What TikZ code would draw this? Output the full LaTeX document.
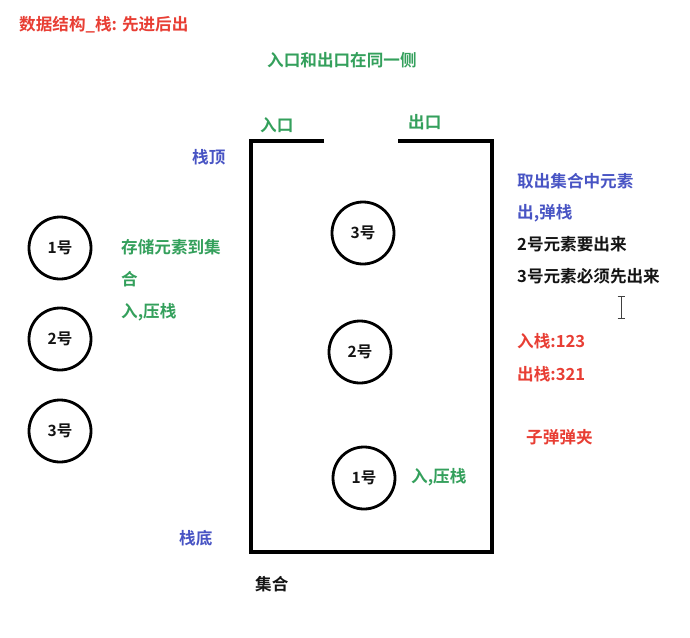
\documentclass[tikz,border=0pt]{standalone}
\usepackage{fontspec}
\setmainfont{Noto Sans CJK SC}[BoldFont={Noto Sans CJK SC Bold}]
\definecolor{tred}{RGB}{232,62,52}
\definecolor{tgreen}{RGB}{52,160,92}
\definecolor{tblue}{RGB}{72,84,196}
\definecolor{tblack}{RGB}{20,20,20}
\tikzset{
  txt/.style={anchor=west, inner sep=0pt, font=\fontsize{16.6}{18}\selectfont\bfseries},
  ball/.style={circle, draw=black, line width=2.8pt, minimum size=62pt, inner sep=0pt,
    font=\fontsize{15.5}{17}\selectfont\bfseries, text=tblack},
  wall/.style={line width=3.6pt, line cap=butt, line join=miter}
}
\begin{document}
\begin{tikzpicture}[x=1pt,y=-1pt]
\useasboundingbox (0,0) rectangle (690,637);
\fill[white] (0,0) rectangle (690,637);
% container
\coordinate (inR) at (324,141);
\coordinate (tl) at (251,141);
\coordinate (bl) at (251,552);
\coordinate (br) at (492,552);
\coordinate (tr) at (492,141);
\coordinate (outL) at (398,141);
\draw[wall] (inR) -- (tl) -- (bl) -- (br) -- (tr) -- (outL);
% balls outside
\node[ball] (o1) at (60,248) {1号};
\node[ball] (o2) at (60,339) {2号};
\node[ball] (o3) at (60,431) {3号};
% balls inside
\node[ball] (i3) at (363,233) {3号};
\node[ball] (i2) at (360,352) {2号};
\node[ball] (i1) at (364,478) {1号};
% texts
\node[txt, text=tred] (title) at (19,25) {数据结构\_栈: 先进后出};
\node[txt, text=tgreen] (same) at (267,60) {入口和出口在同一侧};
\node[txt, text=tgreen] (entry) at (260,125) {入口};
\node[txt, text=tgreen] (exit) at (408,122) {出口};
\node[txt, text=tblue] (top) at (192,157) {栈顶};
\node[txt, text=tgreen] (store1) at (121,247) {存储元素到集};
\node[txt, text=tgreen] (store2) at (121,279) {合};
\node[txt, text=tgreen] (push1) at (121,312) {入,压栈};
\node[txt, text=tblue] (take1) at (517,181) {取出集合中元素};
\node[txt, text=tblue] (take2) at (517,213) {出,弹栈};
\node[txt, text=tblack] (two) at (517,244) {2号元素要出来};
\node[txt, text=tblack] (three) at (517,276) {3号元素必须先出来};
\node[txt, text=tred] (pushseq) at (517,341) {入栈:123};
\node[txt, text=tred] (popseq) at (517,374) {出栈:321};
\node[txt, text=tred] (clip) at (526,437) {子弹弹夹};
\node[txt, text=tgreen] (push2) at (411,477) {入,压栈};
\node[txt, text=tblue] (bottom) at (179,538) {栈底};
\node[txt, text=tblack] (set) at (255,584) {集合};
% text cursor
\draw[black!75, line width=1pt] (621,297) -- (621,318)
  (617.5,296.5) -- (624.5,296.5) (617.5,318.5) -- (624.5,318.5);
\end{tikzpicture}
\end{document}
